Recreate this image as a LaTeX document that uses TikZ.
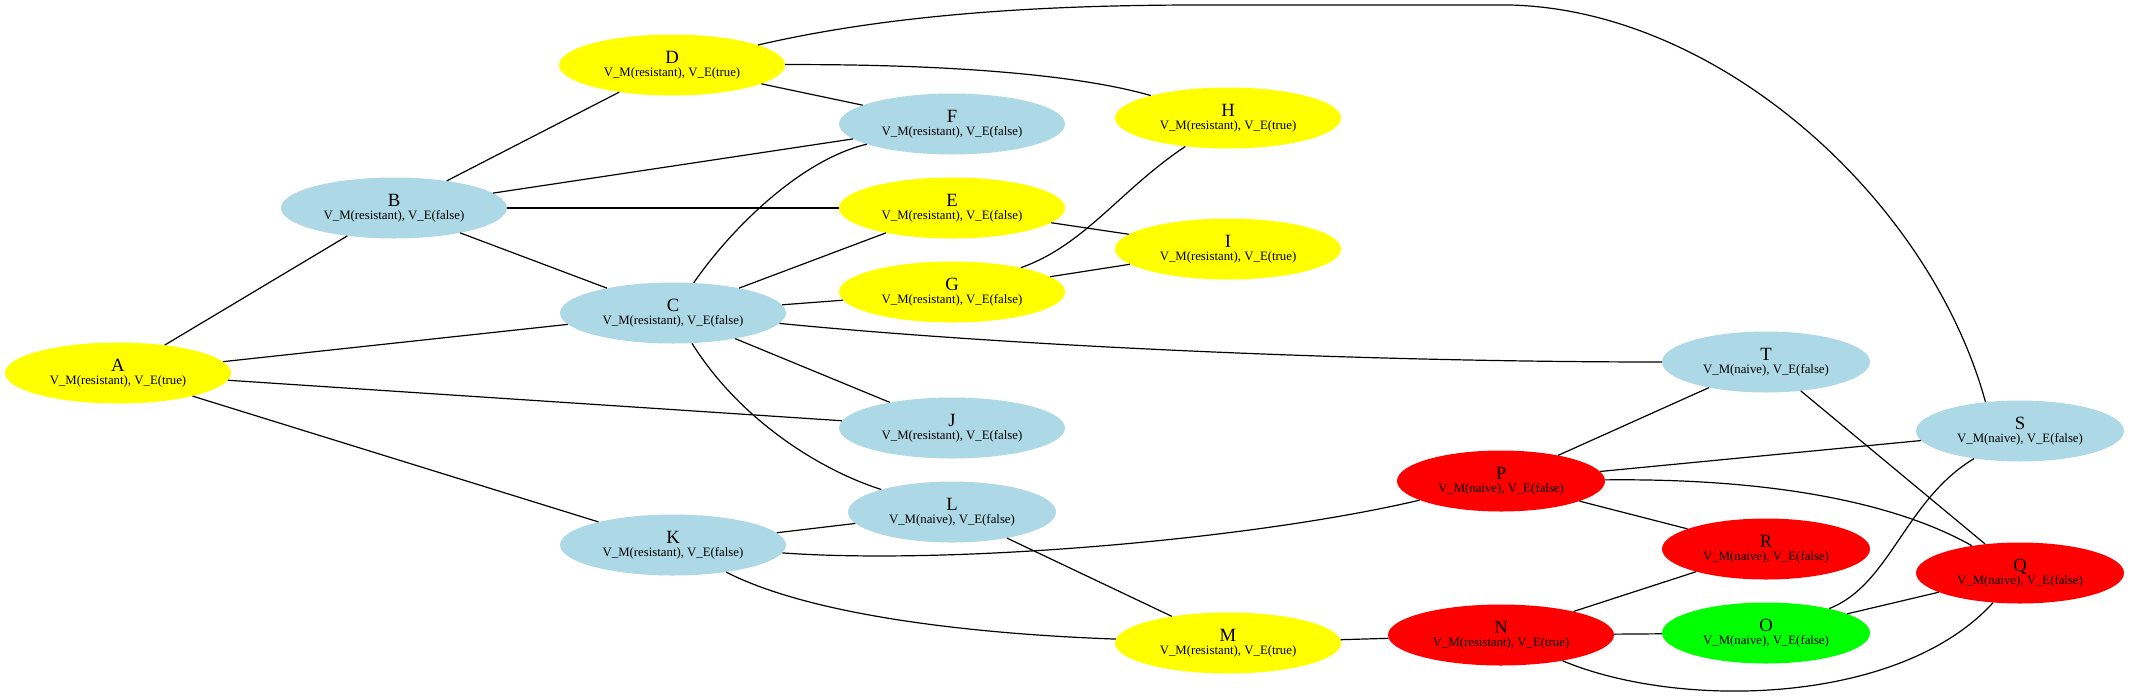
\documentclass[tikz,border=0pt]{standalone}
\usepackage{fontspec}
\setmainfont{Liberation Serif}
\usetikzlibrary{shapes.geometric}

\definecolor{lblue}{HTML}{ADD8E6}
\definecolor{gyel}{HTML}{FFFF00}
\definecolor{gred}{HTML}{FF0000}
\definecolor{ggreen}{HTML}{00FF00}

% title line and state line of a node
\newcommand{\vlab}[3]{{\fontsize{18.7}{12.7}\selectfont #1}\\V\_M(#2), V\_E(#3)}

\tikzset{
	st/.style={ellipse, inner sep=0pt, minimum height=61pt, align=center,
		font=\fontsize{12.8}{12.7}\selectfont},
	res/.style={st, minimum width=226pt},
	nai/.style={st, minimum width=208pt},
	ed/.style={line width=1.2pt}
}

\begin{document}
\begin{tikzpicture}[x=1pt, y=-1pt]
	\useasboundingbox (0, 0) rectangle (2130, 697);

	% nodes
	\node[res, fill=gyel] (A) at (118, 373) {\vlab{A}{resistant}{true}};
	\node[res, fill=lblue] (B) at (394, 208) {\vlab{B}{resistant}{false}};
	\node[res, fill=lblue] (C) at (673, 313) {\vlab{C}{resistant}{false}};
	\node[res, fill=gyel] (D) at (672, 65) {\vlab{D}{resistant}{true}};
	\node[res, fill=gyel] (E) at (952, 208) {\vlab{E}{resistant}{false}};
	\node[res, fill=lblue] (F) at (952, 124) {\vlab{F}{resistant}{false}};
	\node[res, fill=gyel] (G) at (952, 292) {\vlab{G}{resistant}{false}};
	\node[res, fill=gyel] (H) at (1228, 118) {\vlab{H}{resistant}{true}};
	\node[res, fill=gyel] (I) at (1228, 249) {\vlab{I}{resistant}{true}};
	\node[res, fill=lblue] (J) at (952, 428) {\vlab{J}{resistant}{false}};
	\node[res, fill=lblue] (K) at (673, 545) {\vlab{K}{resistant}{false}};
	\node[nai, fill=lblue] (L) at (952, 512) {\vlab{L}{naive}{false}};
	\node[res, fill=gyel] (M) at (1228, 643) {\vlab{M}{resistant}{true}};
	\node[res, fill=gred] (N) at (1501, 635) {\vlab{N}{resistant}{true}};
	\node[nai, fill=ggreen] (O) at (1766, 633) {\vlab{O}{naive}{false}};
	\node[nai, fill=gred] (P) at (1501, 481) {\vlab{P}{naive}{false}};
	\node[nai, fill=gred] (Q) at (2020, 573) {\vlab{Q}{naive}{false}};
	\node[nai, fill=gred] (R) at (1766, 549) {\vlab{R}{naive}{false}};
	\node[nai, fill=lblue] (S) at (2020, 431) {\vlab{S}{naive}{false}};
	\node[nai, fill=lblue] (T) at (1766, 362) {\vlab{T}{naive}{false}};

	% edges
	\draw[ed] (A) -- (B);
	\draw[ed] (A) -- (C);
	\draw[ed] (A) -- (J);
	\draw[ed] (A) -- (K);
	\draw[ed] (B) -- (D);
	\draw[ed] (B) -- (F);
	\draw[ed] (B) -- (E);
	\draw[ed] (B) -- (C);
	\draw[ed] (D) -- (F);
	\draw[ed] (D) .. controls (950, 64) and (1080, 75) .. (H);
	\draw[ed] (D) .. controls (900, 12) and (1060, 5) .. (1200, 5) -- (1510, 5)
		.. controls (1720, 10) and (1930, 200) .. (S.140);
	\draw[ed] (C) .. controls (730, 230) and (800, 160) .. (F);
	\draw[ed] (C) -- (E);
	\draw[ed] (C) -- (G);
	\draw[ed] (C) -- (J);
	\draw[ed] (C) .. controls (1000, 345) and (1350, 362) .. (T);
	\draw[ed] (C) .. controls (740, 420) and (820, 470) .. (L);
	\draw[ed] (E) -- (I);
	\draw[ed] (G) .. controls (1085, 245) and (1120, 190) .. (H);
	\draw[ed] (G) -- (I);
	\draw[ed] (K) -- (L);
	\draw[ed] (K) .. controls (950, 565) and (1250, 540) .. (P);
	\draw[ed] (K) .. controls (820, 620) and (1000, 635) .. (M);
	\draw[ed] (L) -- (M);
	\draw[ed] (M) -- (N);
	\draw[ed] (N) -- (O);
	\draw[ed] (N) -- (R);
	\draw[ed] (N) .. controls (1680, 710) and (1900, 705) .. (Q);
	\draw[ed] (O) .. controls (1890, 585) and (1905, 500) .. (S);
	\draw[ed] (O) -- (Q);
	\draw[ed] (P) -- (T);
	\draw[ed] (P) -- (S);
	\draw[ed] (P) -- (R);
	\draw[ed] (P) .. controls (1780, 478) and (1900, 505) .. (Q);
	\draw[ed] (T) -- (Q);
\end{tikzpicture}
\end{document}
